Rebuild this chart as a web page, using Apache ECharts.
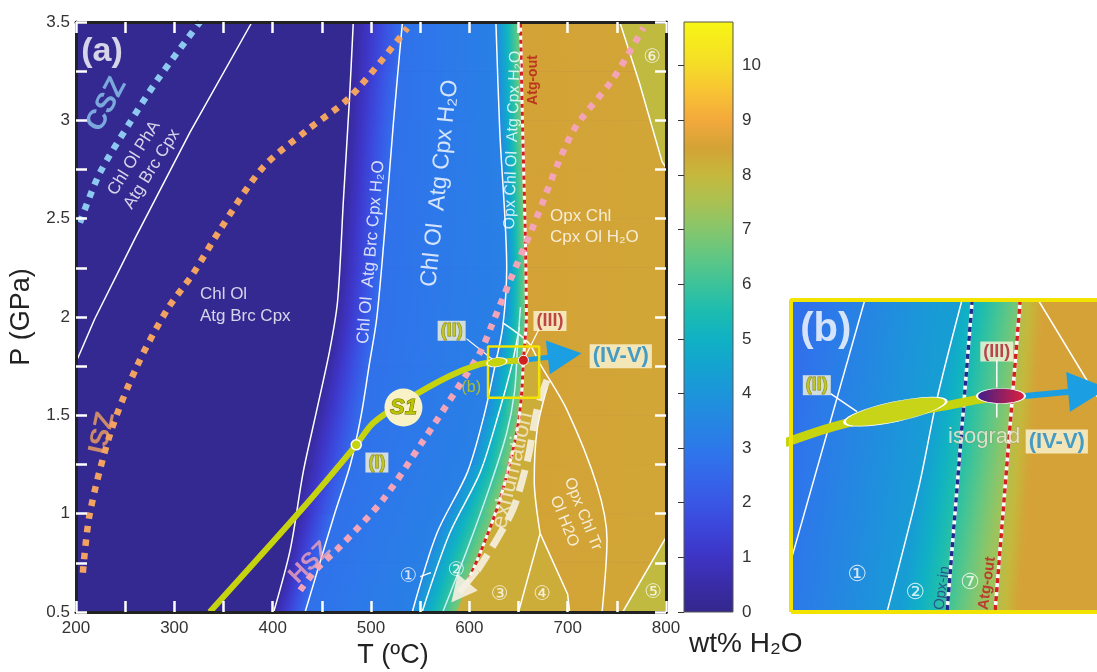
<!DOCTYPE html>
<html>
<head>
<meta charset="utf-8">
<script src="https://cdn.jsdelivr.net/npm/echarts@6/dist/echarts.min.js"></script>
<style>
  html, body { margin: 0; padding: 0; background: #fff; }
  #main { width: 1097px; height: 672px; }
</style>
</head>
<body>
<div id="main"></div>
<script>
// colour scale (wt% H2O)
var cbValues = [0, 0.5, 1, 1.5, 2, 2.5, 3, 3.5, 4, 4.5, 5, 5.5, 6, 6.5, 7, 7.5, 8, 8.5, 9, 9.5, 10, 10.8];
var cbColors = ['#33278c', '#3a2ca6', '#3d34c4', '#3c44d8', '#3956e4', '#3467ea', '#2d78ea', '#2586e2',
                '#1c95da', '#14a3d0', '#10b1c4', '#1cbcb0', '#3cc39a', '#60c784', '#86c66c', '#aac152',
                '#c5b83c', '#d4a236', '#f3a93c', '#f8c234', '#f5dc28', '#f8f614'];

// water-content field: boundary temperatures (°C) sampled at these pressures (GPa)
var pLevels   = [0.5, 0.75, 1, 1.25, 1.5, 1.75, 2, 2.25, 2.5, 2.75, 3, 3.25, 3.5];
var tBrcEdge  = [401, 414, 424, 433, 444, 455, 464, 468, 471, 474, 477, 480, 482];
var tBrcOut   = [433, 448, 463, 479, 490, 498, 506, 511, 515, 519, 523, 528, 532];
var tLine1    = [542, 557, 576, 601, 615, 626, 635, 638, 636, 634, 631, 629, 627];
var tAtgOut   = [588, 607, 627, 641, 651, 655, 658, 657, 656, 655, 654, 653, 652];
var tEdge     = [800, 800, 800, 800, 800, 800, 800, 800, 800, 800, 800, 800, 800];
// wt% H2O at left / right side of each band
var bandBrc   = [0.3, 2.7];
var bandBlue  = [2.8, 3.3];
var bandTeal  = [3.6, 7.0];
var bandOpx   = [8.5, 8.4];
var hAtgField = 0.1;
var field6 = [[753, 3.5], [773, 3.19], [796, 2.79], [800, 2.76], [800, 3.5]];
var field5 = [[756, 0.5], [800, 0.88], [800, 0.5]];
var field34 = [[588, 0.5], [607, 0.75], [627, 1.0], [641, 1.25], [651, 1.5], [655, 1.7], [664, 1.83], [679, 1.64],
               [669, 1.43], [666, 1.17], [672, 0.9], [700, 0.59], [702, 0.5]];
var hField6 = 7.9, hField5 = 7.9, hField34 = 8.25;

// phase boundaries [T, P]
var lnPhA   = [[200, 1.77], [219, 1.99], [260, 2.4], [316, 2.94], [379, 3.5]];
var lnA     = [[401, 0.5], [418, 0.82], [431, 1.21], [445, 1.53], [458, 1.83], [466, 2.08], [472, 2.6], [478, 3.1], [482, 3.5]];
var lnB     = [[433, 0.5], [448, 0.75], [463, 1.0], [479, 1.25], [490, 1.5], [498, 1.75], [506, 2.0], [515, 2.5], [523, 3.0], [532, 3.5]];
var lnOne   = [[542, 0.5], [567, 0.9], [598, 1.21], [615, 1.5], [626, 1.75], [634, 1.95], [638, 2.25], [631, 2.94], [627, 3.5]];
var lnTwo   = [[552, 0.5], [580, 0.9], [611, 1.21], [631, 1.53], [643, 1.75], [648, 1.87], [651, 1.95]];
var lnOpxIn = [[573, 0.5], [598, 0.82], [621, 1.14], [638, 1.41], [646, 1.62], [649, 1.85], [652, 2.05]];
var lnAtg   = [[596, 0.63], [611, 0.8], [631, 1.07], [648, 1.41], [653, 1.6], [655, 1.78], [658, 2.0], [657, 2.4], [654, 3.0], [652, 3.5]];
var lnLensR = [[634, 1.97], [660, 1.87], [672, 1.76], [699, 1.53], [730, 1.14], [740, 0.87], [735, 0.5]];
var lnLensL = [[679, 1.64], [669, 1.43], [666, 1.17], [672, 0.9]];
var ln34    = [[672, 0.9], [650, 0.5]];
var ln4     = [[672, 0.9], [700, 0.59], [702, 0.5]];
var ln5     = [[756, 0.5], [800, 0.88]];
var ln6     = [[753, 3.5], [773, 3.19], [796, 2.79], [800, 2.76]];
var ldOne   = [[550, 0.68], [561, 0.7]];

// geotherms and paths
var gCSZ = [[204, 2.48], [224, 2.73], [255, 2.99], [282, 3.2], [326, 3.5]];
var gISZ = [[207, 0.7], [214, 1.0], [235, 1.41], [262, 1.75], [293, 2.04], [319, 2.22], [346, 2.44], [390, 2.76], [435, 2.95], [479, 3.12], [537, 3.47]];
var gHSZ = [[428, 0.61], [445, 0.72], [468, 0.83], [512, 1.07], [553, 1.37], [587, 1.63], [611, 1.82], [623, 1.96], [641, 2.18], [664, 2.45], [705, 2.94], [746, 3.21], [777, 3.47]];
var pathS1 = [[336, 0.5], [431, 1.03], [485, 1.35], [502, 1.46], [537, 1.58], [580, 1.7], [611, 1.76], [628, 1.77], [655, 1.78]];
var arrowIV = [[655, 1.78], [697, 1.805]];
var pathExh = [[679, 1.68], [669, 1.53], [659, 1.27], [645, 1.03], [628, 0.87], [608, 0.71]];
var arrowExh = [[608, 0.71], [590, 0.6]];
var boxB = [[619, 1.59], [671, 1.59], [671, 1.85], [619, 1.85], [619, 1.59]];
var ptI = [485, 1.35], ptII = [628, 1.77], ptIII = [655, 1.78], ptS1 = [533, 1.54];
var ldII = [[597, 1.89], [626, 1.775]];
var ldIII = [[671, 1.94], [657, 1.8]];

// inset (b)
var inPLevels = [1.59, 1.85];
var inLeft = [619, 619], inTwo = [635, 647.5], inAtg = [653, 657.2], inAtg2 = [657, 661], inRight = [671, 671];
var inBandA = [2.8, 4.3], inBandB = [4.3, 7.3], inBandC = [7.6, 8.5], inBandD = [8.5, 8.5];
var inOne   = [[631.3, 1.85], [619, 1.633]];
var inLnTwo = [[647.5, 1.85], [643.3, 1.767], [640.3, 1.694], [635, 1.59]];
var inOpxIn = [[649.2, 1.85], [645, 1.59]];
var inAtgLn = [[657.2, 1.85], [653, 1.59]];
var inLens  = [[660.2, 1.85], [669.3, 1.775], [672, 1.755]];
var inS1    = [[618, 1.731], [628, 1.747], [645, 1.762], [650, 1.767], [654, 1.77]];
var inArrow = [[658, 1.77], [668.5, 1.775]];
var inII = [636.4, 1.757], inIII = [654, 1.77];
var inLdII = [[625.6, 1.772], [630, 1.757]];
var inLdIII = [[653.3, 1.8], [653.3, 1.777]];
var inLdIso = [[653.3, 1.764], [653.3, 1.752]];

var NARROW = "'Liberation Sans Narrow', 'Arial Narrow', 'Liberation Sans', Arial, sans-serif";
var SANS = "'Liberation Sans', Arial, sans-serif";
var CIRC = "'DejaVu Sans', 'Noto Sans CJK SC', sans-serif";

function colorAt(v) {
    if (v <= cbValues[0]) return cbColors[0];
    for (var i = 1; i < cbValues.length; i++) {
        if (v <= cbValues[i]) {
            var f = (v - cbValues[i - 1]) / (cbValues[i] - cbValues[i - 1]);
            var a = echarts.color.parse(cbColors[i - 1]), b = echarts.color.parse(cbColors[i]);
            return 'rgb(' + [0, 1, 2].map(function (k) { return Math.round(a[k] + (b[k] - a[k]) * f); }).join(',') + ')';
        }
    }
    return cbColors[cbColors.length - 1];
}
function stopsBetween(v0, v1) {
    var st = [{ offset: 0, color: colorAt(v0) }];
    var lo = Math.min(v0, v1), hi = Math.max(v0, v1);
    cbValues.forEach(function (cv) {
        if (cv > lo && cv < hi) st.push({ offset: (cv - v0) / (v1 - v0), color: colorAt(cv) });
    });
    st.push({ offset: 1, color: colorAt(v1) });
    st.sort(function (a, b) { return a.offset - b.offset; });
    return st;
}

// cut each band into strips between neighbouring pressure levels
function bandPatches(levels, left, right, vals) {
    var out = [];
    for (var i = 0; i < levels.length - 1; i++) {
        out.push({
            poly: [[left[i], levels[i]], [right[i], levels[i]], [right[i + 1], levels[i + 1]], [left[i + 1], levels[i + 1]]],
            vL: vals[0], vR: vals[1]
        });
    }
    return out;
}
function flatPatch(poly, v) {
    return { poly: poly, vL: v, vR: v };
}

var mainPatches = [flatPatch([[200, 0.5], [800, 0.5], [800, 3.5], [200, 3.5]], hAtgField)]
    .concat(bandPatches(pLevels, tBrcEdge, tBrcOut, bandBrc))
    .concat(bandPatches(pLevels, tBrcOut, tLine1, bandBlue))
    .concat(bandPatches(pLevels, tLine1, tAtgOut, bandTeal))
    .concat(bandPatches(pLevels, tAtgOut, tEdge, bandOpx))
    .concat([flatPatch(field34, hField34), flatPatch(field6, hField6), flatPatch(field5, hField5)]);

var insetPatches = bandPatches(inPLevels, inLeft, inTwo, inBandA)
    .concat(bandPatches(inPLevels, inTwo, inAtg, inBandB))
    .concat(bandPatches(inPLevels, inAtg, inAtg2, inBandC))
    .concat(bandPatches(inPLevels, inAtg2, inRight, inBandD));

function fieldSeries(list, xi, yi) {
    return {
        type: 'custom', xAxisIndex: xi, yAxisIndex: yi, silent: true, z: 1,
        data: list.map(function (p) { return [p.poly[0][0], p.poly[0][1]]; }),
        renderItem: function (params, api) {
            var p = list[params.dataIndex];
            var pts = p.poly.map(function (q) { return api.coord(q); });
            var fill;
            if (p.vL === p.vR) {
                fill = colorAt(p.vL);
            } else {
                // colour runs across the strip, iso-lines follow its side edges
                var a0 = pts[0], b0 = pts[1], b1 = pts[2], a1 = pts[3];
                var ux = (a1[0] - a0[0]) + (b1[0] - b0[0]), uy = (a1[1] - a0[1]) + (b1[1] - b0[1]);
                var ul = Math.sqrt(ux * ux + uy * uy) || 1;
                var nx = -uy / ul, ny = ux / ul;
                var ma = [(a0[0] + a1[0]) / 2, (a0[1] + a1[1]) / 2], mb = [(b0[0] + b1[0]) / 2, (b0[1] + b1[1]) / 2];
                var d = (mb[0] - ma[0]) * nx + (mb[1] - ma[1]) * ny;
                fill = new echarts.graphic.LinearGradient(ma[0], ma[1], ma[0] + nx * d, ma[1] + ny * d,
                                                          stopsBetween(p.vL, p.vR), true);
            }
            return { type: 'polygon', shape: { points: pts }, style: { fill: fill, stroke: fill, lineWidth: 0.8 } };
        }
    };
}

function line(data, color, width, extra) {
    var s = {
        type: 'line', data: data, symbol: 'none', silent: true, z: 3,
        xAxisIndex: 0, yAxisIndex: 0,
        lineStyle: { color: color, width: width }
    };
    for (var k in extra) s[k] = extra[k];
    return s;
}
function dotted(data, color, extra) {
    return line(data, color, 6.5, Object.assign({ z: 4, smooth: 0.3,
        lineStyle: { color: color, width: 6.5, type: [6.5, 7], cap: 'butt' } }, extra));
}
function arrow(coords, color, width, size, xi, yi) {
    return {
        type: 'lines', coordinateSystem: 'cartesian2d', xAxisIndex: xi, yAxisIndex: yi, silent: true, z: 5,
        symbol: ['none', 'triangle'], symbolSize: size,
        lineStyle: { color: color, width: width, opacity: 1 },
        data: [{ coords: coords }]
    };
}
function tag(t, p, text, style) {
    var lab = { show: true, position: 'inside', formatter: text, color: '#fff', fontSize: 16, fontFamily: SANS };
    for (var k in style) lab[k] = style[k];
    return { value: [t, p], label: lab };
}
var boxStyle = { backgroundColor: '#fbf6d8', padding: [2, 3, 0, 3], fontWeight: 'bold', fontSize: 18,
                 fontFamily: NARROW, color: '#bcc000', textBorderColor: '#6a6a00', textBorderWidth: 0.8 };
function boxTag(t, p, text, color, size) {
    var s = Object.assign({}, boxStyle);
    if (color) { s.color = color; s.textBorderWidth = 0; }
    if (size) s.fontSize = size;
    return tag(t, p, text, s);
}

var mainTags = [
    tag(226.5, 3.347, '(a)', { fontSize: 34, fontWeight: 'bold' }),
    tag(231, 3.08, 'CSZ', { rotate: 62, color: '#8cc8f0', fontWeight: 'bold', fontSize: 28 }),
    tag(268, 2.78, 'Chl Ol PhA\nAtg Brc Cpx', { rotate: 58, fontSize: 17, lineHeight: 21 }),
    tag(326, 2.06, 'Chl Ol\nAtg Brc Cpx', { align: 'left', fontSize: 17, lineHeight: 22 }),
    tag(227, 1.41, 'ISZ', { rotate: 78, color: '#f2a261', fontWeight: 'bold', fontSize: 27 }),
    tag(500, 2.33, 'Chl Ol  Atg Brc Cpx H₂O', { rotate: 85, fontSize: 17 }),
    tag(570, 2.68, 'Chl Ol  Atg Cpx H₂O', { rotate: 84, fontSize: 23 }),
    tag(644, 2.9, 'Opx Chl Ol  Atg Cpx H₂O', { rotate: 88, fontSize: 16 }),
    tag(665, 3.205, 'Atg-out', { rotate: 90, fontSize: 14, fontWeight: 'bold', color: '#b41a1a' }),
    tag(682, 2.46, 'Opx Chl\nCpx Ol H₂O', { align: 'left', fontSize: 17, lineHeight: 21 }),
    tag(706, 0.98, 'Opx Chl Tr\nOl H2O', { rotate: -68, fontSize: 16, lineHeight: 20 }),
    tag(644, 1.22, 'exhumation', { rotate: 77, fontSize: 23, color: '#f3ecd6' }),
    tag(438, 0.75, 'HSZ', { rotate: 45, color: '#f4a4b8', fontWeight: 'bold', fontSize: 24 }),
    tag(602, 1.64, '(b)', { color: '#c8d000', fontSize: 16 }),
    tag(538, 0.68, '①', { fontSize: 20, fontFamily: CIRC }),
    tag(587, 0.71, '②', { fontSize: 20, fontFamily: CIRC }),
    tag(631, 0.59, '③', { fontSize: 20, fontFamily: CIRC }),
    tag(674, 0.59, '④', { fontSize: 20, fontFamily: CIRC }),
    tag(787, 0.6, '⑤', { fontSize: 20, fontFamily: CIRC }),
    tag(786, 3.32, '⑥', { fontSize: 20, fontFamily: CIRC }),
    boxTag(506, 1.26, '(I)'),
    boxTag(582, 1.93, '(II)'),
    boxTag(682, 1.98, '(III)', '#b01c28'),
    boxTag(754, 1.8, '(IV-V)', '#1a88c8', 22)
];

var insetTags = [
    tag(624.8, 1.825, '(b)', { fontSize: 40, fontWeight: 'bold' }),
    tag(651.2, 1.736, 'isograd', { fontSize: 22, color: '#f4eedd', textBorderColor: '#8a7a50', textBorderWidth: 0.5 }),
    tag(630, 1.621, '①', { fontSize: 22, fontFamily: CIRC }),
    tag(639.7, 1.606, '②', { fontSize: 22, fontFamily: CIRC }),
    tag(648.8, 1.614, '⑦', { fontSize: 22, fontFamily: CIRC }),
    tag(644.2, 1.61, 'Opx-in', { rotate: 82, fontSize: 15, color: '#283a8c' }),
    tag(651.7, 1.614, 'Atg-out', { rotate: 82, fontSize: 15, fontWeight: 'bold', color: '#c01c24' }),
    boxTag(623.3, 1.779, '(II)'),
    boxTag(653.3, 1.807, '(III)', '#b01c28'),
    boxTag(663.3, 1.732, '(IV-V)', '#1a88c8', 22)
];

var vMax = cbValues[cbValues.length - 1];

var series = [
    fieldSeries(mainPatches, 0, 0),
    // phase boundaries
    line(lnPhA, '#fff', 1.5),
    line(lnA, '#fff', 1.5, { smooth: 0.3 }),
    line(lnB, '#fff', 1.5, { smooth: 0.3 }),
    line(lnOne, '#fff', 1.5, { smooth: 0.3 }),
    line(lnTwo, '#fff', 1.5, { smooth: 0.3 }),
    line(lnOpxIn, '#c8f2fa', 1.5, { smooth: 0.3 }),
    line(lnLensR, '#fff', 1.5, { smooth: 0.3 }),
    line(lnLensL, '#fff', 1.5, { smooth: 0.3 }),
    line(ln34, '#fff', 1.5),
    line(ln4, '#fff', 1.5),
    line(ln5, '#fff', 1.5),
    line(ln6, '#fff', 1.5),
    line(ldOne, '#fff', 1.2),
    line(ldII, '#fff', 1.2),
    line(ldIII, '#fff', 1.2),
    line(lnAtg, '#fff', 3, { smooth: 0.3 }),
    line(lnAtg, '#d2201e', 3, { smooth: 0.3, lineStyle: { color: '#d2201e', width: 3, type: [4, 4] } }),
    // geotherms
    dotted(gCSZ, '#8cc8f0'),
    dotted(gISZ, '#f2a261'),
    dotted(gHSZ, '#f4a4b8'),
    // exhumation
    line(pathExh, 'rgba(245,240,225,0.9)', 7, { z: 5, smooth: 0.3, lineStyle: { color: 'rgba(245,240,225,0.9)', width: 7, type: [22, 9], cap: 'butt' } }),
    arrow(arrowExh, 'rgba(245,240,225,0.9)', 6, [22, 26], 0, 0),
    // S1 path
    line(pathS1, '#c6d30f', 6, { z: 5, smooth: 0.3 }),
    arrow(arrowIV, '#1c9fe2', 5, [26, 34], 0, 0),
    line(boxB, '#f2e400', 2.5, { z: 6 }),
    {
        type: 'scatter', xAxisIndex: 0, yAxisIndex: 0, silent: true, z: 6,
        itemStyle: { opacity: 1 },
        data: [
            { value: ptI, symbolSize: 10, itemStyle: { color: '#c6d30f', borderColor: '#fff', borderWidth: 1.5, opacity: 1 } },
            { value: ptII, symbol: 'circle', symbolSize: [20, 9], symbolRotate: 8, itemStyle: { color: '#c6d30f', borderColor: '#fff', borderWidth: 1, opacity: 1 } },
            { value: ptIII, symbolSize: 10, itemStyle: { color: '#d2201e', borderColor: '#fff', borderWidth: 1, opacity: 1 } },
            { value: ptS1, symbolSize: 38, itemStyle: { color: '#f8f2c6', opacity: 1 },
              label: { show: true, position: 'inside', formatter: 'S1', fontSize: 22, fontWeight: 'bold', fontStyle: 'italic',
                       fontFamily: SANS, color: '#bcc400', textBorderColor: '#6a6a00', textBorderWidth: 1 } }
        ]
    },
    { type: 'scatter', xAxisIndex: 0, yAxisIndex: 0, silent: true, z: 7, symbolSize: 0, data: mainTags },

    // colour bar
    {
        type: 'custom', xAxisIndex: 2, yAxisIndex: 2, silent: true, z: 1, data: [[0, 0]],
        renderItem: function (params, api) {
            var p0 = api.coord([0, 0]), p1 = api.coord([1, vMax]);
            return {
                type: 'rect',
                shape: { x: p0[0], y: p1[1], width: p1[0] - p0[0], height: p0[1] - p1[1] },
                style: {
                    fill: new echarts.graphic.LinearGradient(0, 1, 0, 0, cbValues.map(function (v, i) {
                        return { offset: v / vMax, color: cbColors[i] };
                    })),
                    stroke: '#555', lineWidth: 1
                }
            };
        }
    },

    // inset (b)
    fieldSeries(insetPatches, 3, 3),
    line(inOne, '#fff', 1.5, { xAxisIndex: 3, yAxisIndex: 3 }),
    line(inLnTwo, '#fff', 1.5, { xAxisIndex: 3, yAxisIndex: 3, smooth: 0.3 }),
    line(inLens, '#fff', 1.5, { xAxisIndex: 3, yAxisIndex: 3 }),
    line(inOpxIn, '#fff', 3.5, { xAxisIndex: 3, yAxisIndex: 3 }),
    line(inOpxIn, '#1e2a8c', 3.5, { xAxisIndex: 3, yAxisIndex: 3, lineStyle: { color: '#1e2a8c', width: 3.5, type: [5, 4] } }),
    line(inAtgLn, '#fff', 3.5, { xAxisIndex: 3, yAxisIndex: 3 }),
    line(inAtgLn, '#d2201e', 3.5, { xAxisIndex: 3, yAxisIndex: 3, lineStyle: { color: '#d2201e', width: 3.5, type: [5, 4] } }),
    line(inLdII, '#fff', 1.5, { xAxisIndex: 3, yAxisIndex: 3 }),
    line(inLdIII, '#fff', 1.5, { xAxisIndex: 3, yAxisIndex: 3 }),
    line(inLdIso, '#fff', 1.5, { xAxisIndex: 3, yAxisIndex: 3 }),
    line(inS1, '#c6d30f', 9, { xAxisIndex: 3, yAxisIndex: 3, z: 5, smooth: 0.3 }),
    arrow(inArrow, '#1c9fe2', 6, [30, 40], 3, 3),
    line(boxB, '#f2e400', 4, { xAxisIndex: 3, yAxisIndex: 3, z: 8, clip: false }),
    {
        type: 'scatter', xAxisIndex: 3, yAxisIndex: 3, silent: true, z: 6,
        data: [
            { value: inII, symbolSize: [104, 20], symbolRotate: 12, itemStyle: { color: '#c8d418', borderColor: '#fff', borderWidth: 1.2, opacity: 1 } },
            { value: inIII, symbolSize: [48, 15], itemStyle: {
                color: new echarts.graphic.LinearGradient(0, 0, 1, 0, [{ offset: 0, color: '#3a1e8c' }, { offset: 1, color: '#e3203a' }]),
                borderColor: '#fff', borderWidth: 1.2, opacity: 1 } }
        ]
    },
    { type: 'scatter', xAxisIndex: 3, yAxisIndex: 3, silent: true, z: 7, symbolSize: 0, data: insetTags }
];

function tickLabel(step) {
    return function (v) {
        var k = v / step;
        return Math.abs(k - Math.round(k)) < 1e-6 ? String(+v.toFixed(2)) : '';
    };
}
var tickWhite = { show: true, inside: true, length: 11, lineStyle: { color: '#fff', width: 2.5 } };
var frame = { show: true, lineStyle: { color: '#222', width: 3 } };
var labStyle = { color: '#333', fontSize: 17, fontFamily: NARROW };

var option = {
    animation: false,
    backgroundColor: '#fff',
    grid: [
        { left: 76, top: 22, width: 590, height: 590, outerBoundsMode: 'none' },
        { left: 684, top: 22, width: 49, height: 590, outerBoundsMode: 'none' },
        { left: 791, top: 300, width: 312, height: 312, outerBoundsMode: 'none' }
    ],
    xAxis: [
        { type: 'value', gridIndex: 0, min: 200, max: 800, interval: 50, position: 'bottom', z: 10,
          axisLine: frame, axisTick: tickWhite, splitLine: { show: false },
          axisLabel: Object.assign({ margin: 8, formatter: tickLabel(100) }, labStyle),
          name: 'T (ºC)', nameLocation: 'middle', nameGap: 24,
          nameTextStyle: { fontSize: 27, color: '#222', fontFamily: SANS, padding: [0, 0, 0, 44] } },
        { type: 'value', gridIndex: 0, min: 200, max: 800, interval: 50, position: 'top', z: 10,
          axisLine: frame, axisTick: tickWhite, splitLine: { show: false }, axisLabel: { show: false } },
        { type: 'value', gridIndex: 1, min: 0, max: 1, show: false },
        { type: 'value', gridIndex: 2, min: 619, max: 671, show: false }
    ],
    yAxis: [
        { type: 'value', gridIndex: 0, min: 0.5, max: 3.5, interval: 0.25, position: 'left', z: 10,
          axisLine: frame, axisTick: tickWhite, splitLine: { show: false },
          axisLabel: Object.assign({ margin: 6, formatter: tickLabel(0.5) }, labStyle),
          name: 'P (GPa)', nameLocation: 'middle', nameGap: 41, nameRotate: 90,
          nameTextStyle: { fontSize: 27, color: '#222', fontFamily: SANS } },
        { type: 'value', gridIndex: 0, min: 0.5, max: 3.5, interval: 0.25, position: 'right', z: 10,
          axisLine: frame, axisTick: tickWhite, splitLine: { show: false }, axisLabel: { show: false } },
        { type: 'value', gridIndex: 1, min: 0, max: vMax, interval: 1, position: 'right', z: 10,
          axisLine: { show: false },
          axisTick: { show: true, inside: true, length: 6, lineStyle: { color: '#333', width: 1 } },
          splitLine: { show: false },
          axisLabel: Object.assign({ margin: 9, showMaxLabel: false, formatter: tickLabel(1) }, labStyle) },
        { type: 'value', gridIndex: 2, min: 1.59, max: 1.85, show: false }
    ],
    graphic: [
        { type: 'text', left: 689, top: 630, silent: true,
          style: { text: 'wt% H₂O', fontSize: 28, fill: '#222', fontFamily: SANS } }
    ],
    series: series
};

var chart = echarts.init(document.getElementById('main'), null, { renderer: 'canvas' });
chart.setOption(option);
</script>
</body>
</html>
